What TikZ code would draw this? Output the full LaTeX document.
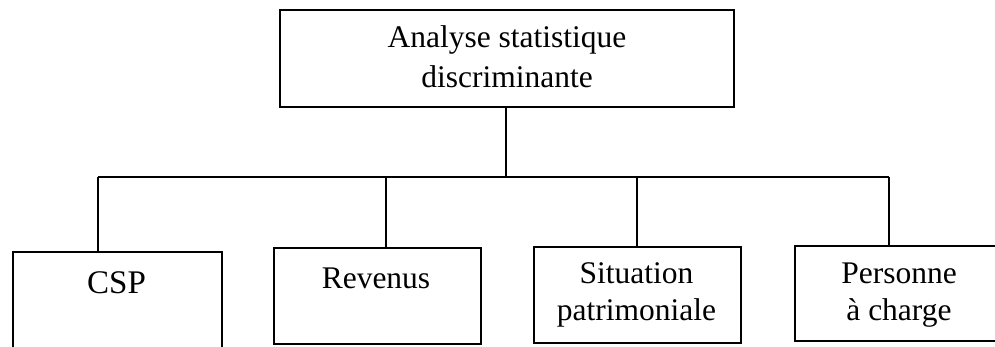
\documentclass[tikz,border=0pt]{standalone}
\usepackage{fontspec}
\setmainfont{Liberation Serif}
\begin{document}
\begin{tikzpicture}[x=1pt,y=-1pt,
  boxnode/.style={draw, line width=1.7pt, inner sep=0pt, anchor=north west},
  label/.style={inner sep=0pt, anchor=base, align=center, font=\fontsize{31.5}{36.5}\selectfont},
  link/.style={line width=1.7pt}]
\useasboundingbox (0,0) rectangle (995,346);
\clip (0,0) rectangle (995,346);
% boxes
\node[boxnode, minimum width=454pt, minimum height=97pt] (top) at (279,9) {};
\node[boxnode, minimum width=209pt, minimum height=130pt] (csp) at (12,251) {};
\node[boxnode, minimum width=207pt, minimum height=96pt] (rev) at (273,247) {};
\node[boxnode, minimum width=207pt, minimum height=96pt] (sit) at (533,246) {};
\node[boxnode, minimum width=230pt, minimum height=95pt] (pers) at (794,245) {};
% texts (anchor = baseline of the last line)
\node[label, font=\fontsize{31.5}{40}\selectfont] (ttop) at (507,87) {Analyse statistique\\discriminante};
\node[label, font=\fontsize{33}{38}\selectfont] (tcsp) at (116.5,293) {CSP};
\node[label] (trev) at (376,288) {Revenus};
\node[label] (tsit) at (636.5,320) {Situation\\patrimoniale};
\node[label] (tpers) at (899,320) {Personne\\à charge};
% connectors
\coordinate (bar) at (506,177);
\coordinate (j1) at (98,177);
\coordinate (j2) at (386,177);
\coordinate (j3) at (637,177);
\coordinate (j4) at (889,177);
\draw[link] (top.south -| bar) -- (bar);
\draw[link] (j1) -- (j4);
\draw[link] (j1) -- (j1 |- csp.north);
\draw[link] (j2) -- (j2 |- rev.north);
\draw[link] (j3) -- (j3 |- sit.north);
\draw[link] (j4) -- (j4 |- pers.north);
\end{tikzpicture}
\end{document}
